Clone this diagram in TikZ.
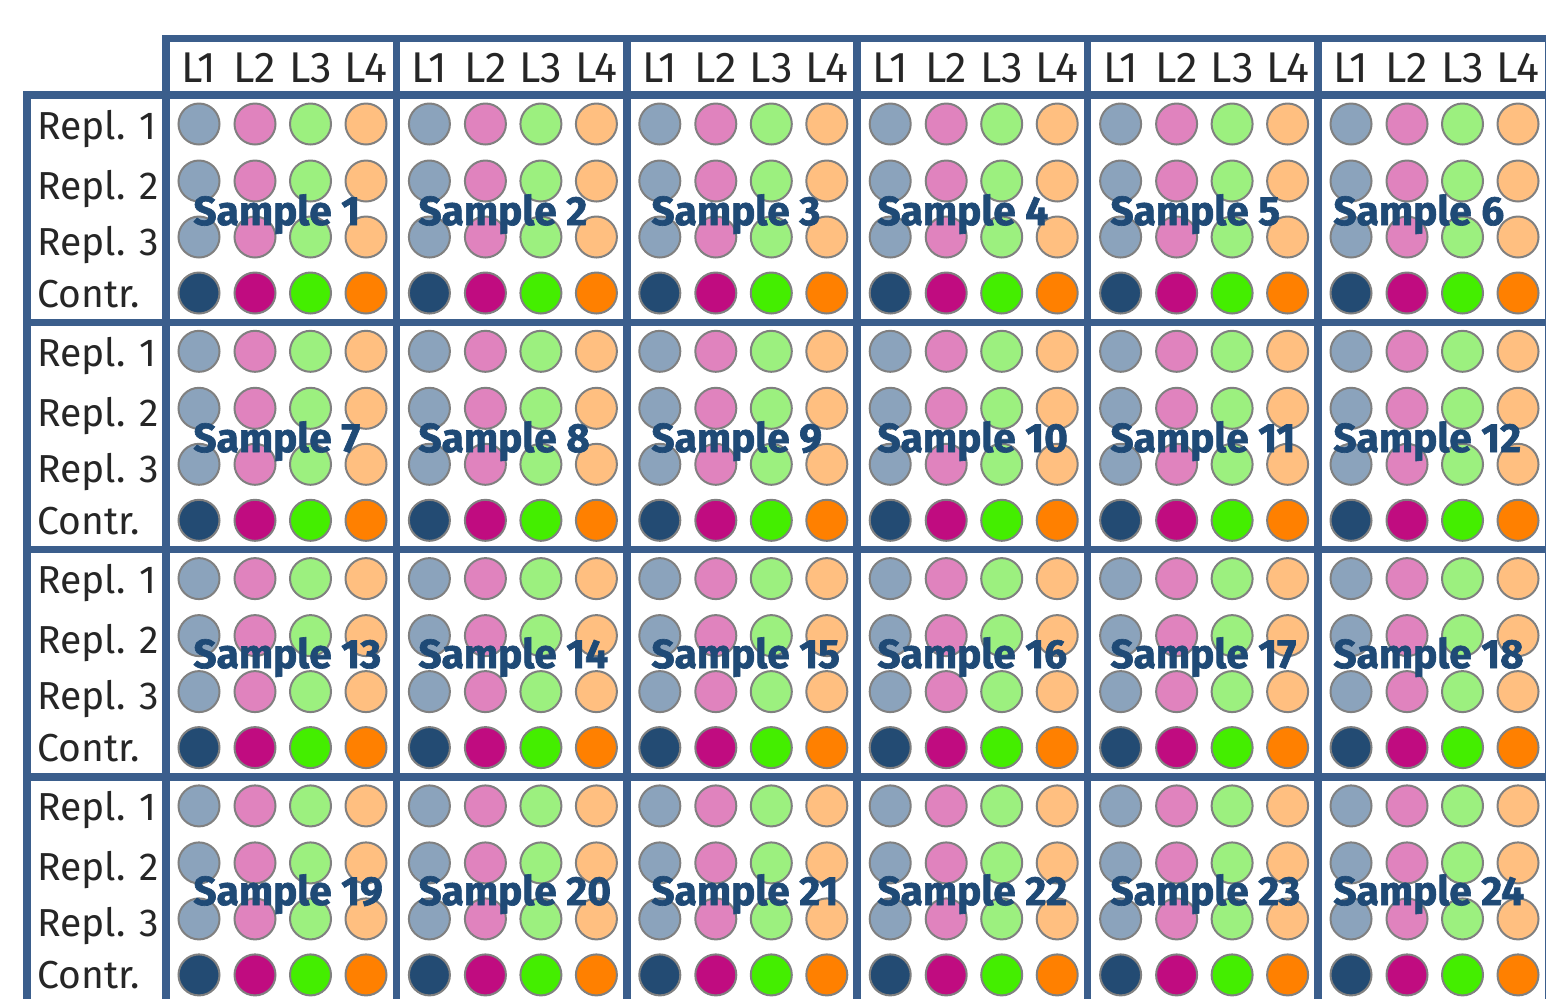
\documentclass[tikz,border=0pt]{standalone}
\usepackage{fontspec}
\setmainfont{Fira Sans}
\newfontfamily\samplefont{Fira Sans}[BoldFeatures={FakeBold=1.6}]

\definecolor{gridblue}{RGB}{59,94,140}
\definecolor{sampleblue}{RGB}{31,74,118}
\definecolor{ringgray}{RGB}{128,128,128}
\definecolor{lightL1}{RGB}{139,163,188}
\definecolor{lightL2}{RGB}{224,131,190}
\definecolor{lightL3}{RGB}{156,240,127}
\definecolor{lightL4}{RGB}{255,191,128}
\definecolor{darkL1}{RGB}{35,75,115}
\definecolor{darkL2}{RGB}{192,12,128}
\definecolor{darkL3}{RGB}{68,238,0}
\definecolor{darkL4}{RGB}{255,128,0}

\begin{document}
\begin{tikzpicture}[x=0.5pt, y=-0.5pt,
  grid/.style={draw=gridblue, line width=3.75pt},
  well/.style={circle, draw=ringgray, line width=1pt, minimum size=20.5pt, inner sep=0pt},
  lane/.style={font=\fontsize{21.5}{22}\selectfont, text=black!85, anchor=base, inner sep=0pt},
  repl/.style={font=\fontsize{19.5}{20}\selectfont, text=black!85, anchor=base west, inner sep=0pt},
  sample/.style={font=\samplefont\bfseries\fontsize{20.3}{21}\selectfont, text=sampleblue, anchor=base west, inner sep=0pt}]
  \useasboundingbox (0,0) rectangle (1546,998);
  \clip (0,0) rectangle (1546,998);

  % Header and label frames
  \foreach \c in {0,...,5}
    \draw[grid] ({166+230.4*\c},38.5) rectangle ({166+230.4*(\c+1)},95);
  \foreach \r in {0,...,3}
    \draw[grid] (27,{95+227.3*\r}) rectangle (166,{95+227.3*(\r+1)});

  % Sample blocks
  \foreach \r in {0,...,3}
    \foreach \c in {0,...,5}
      \draw[grid] ({166+230.4*\c},{95+227.3*\r}) rectangle ({166+230.4*(\c+1)},{95+227.3*(\r+1)});

  % Lane labels
  \foreach \c in {0,...,5}
    \foreach \i/\dx in {1/33,2/89,3/144.5,4/200}
      \node[lane] (lane-\c-\i) at ({166+230.4*\c+\dx},82) {L\i};

  % Row labels
  \foreach \r in {0,...,3} {
    \node[repl] (repl-\r-1) at (37,{95+227.3*\r+44}) {Repl. 1};
    \node[repl] (repl-\r-2) at (37,{95+227.3*\r+104}) {Repl. 2};
    \node[repl] (repl-\r-3) at (37,{95+227.3*\r+160}) {Repl. 3};
    \node[repl] (contr-\r) at (37,{95+227.3*\r+212}) {Contr.};
  }

  % Wells: three replicates and the control
  \foreach \r in {0,...,3}
    \foreach \c in {0,...,5}
      \foreach \i/\dx in {1/33,2/89,3/144.5,4/200} {
        \foreach \j/\dy in {1/29,2/86,3/142}
          \node[well, fill=lightL\i] (w-\r-\c-\j-\i) at ({166+230.4*\c+\dx},{95+227.3*\r+\dy}) {};
        \node[well, fill=darkL\i] (w-\r-\c-4-\i) at ({166+230.4*\c+\dx},{95+227.3*\r+198}) {};
      }

  % Sample names
  \foreach \r/\sy in {0/225,1/452,2/668,3/905}
    \foreach \c/\sx in {0/193,1/418,2/651,3/877,4/1110,5/1333} {
      \pgfmathtruncatemacro{\n}{6*\r+\c+1}
      \node[sample] (sample-\n) at (\sx,\sy) {Sample \n};
    }
\end{tikzpicture}
\end{document}
